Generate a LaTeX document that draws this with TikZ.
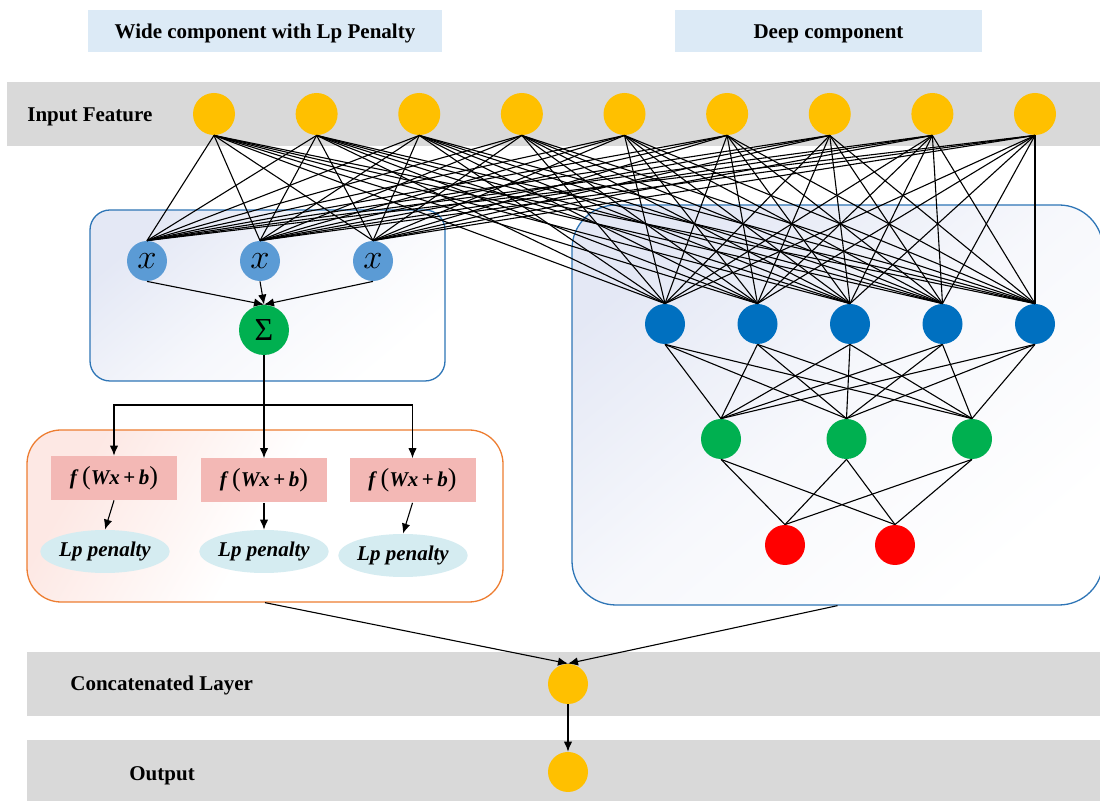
\documentclass[tikz,border=0pt]{standalone}
\usepackage{fontspec}
\setmainfont{Liberation Serif}
\usetikzlibrary{arrows.meta,positioning,calc,shapes.geometric}
\definecolor{inYellow}{HTML}{FFC000}
\definecolor{xBlue}{HTML}{5B9BD5}
\definecolor{sumGreen}{HTML}{00B050}
\definecolor{deepBlue}{HTML}{0070C0}
\definecolor{outRed}{HTML}{FF0000}
\definecolor{bandGray}{HTML}{D9D9D9}
\definecolor{headBlue}{HTML}{DCEAF6}
\definecolor{fPink}{HTML}{F3B8B5}
\definecolor{lpCyan}{HTML}{D5ECF1}
\definecolor{boxBlue}{HTML}{2E75B6}
\definecolor{boxOrange}{HTML}{ED7D31}
\definecolor{deepTint}{HTML}{E4E8F5}
\definecolor{penTint}{HTML}{FDE8E4}

\newcommand{\fwxb}{\textit{f}\,{\fontsize{13}{13}\selectfont\mdseries(}\textit{Wx}\,+\,\textit{b}{\fontsize{13}{13}\selectfont\mdseries)}}

\begin{document}
\begin{tikzpicture}[x=0.5pt,y=-0.5pt,
    every node/.style={font=\fontsize{10.5}{12}\selectfont\bfseries},
    band/.style={fill=bandGray},
    headbox/.style={rectangle,fill=headBlue,minimum width=177pt,
                    minimum height=21pt,inner sep=0pt,text height=9pt,text depth=1pt},
    bandlbl/.style={anchor=west,inner sep=0pt,text height=9pt,text depth=1pt},
    unit/.style={circle,minimum size=20pt,inner sep=0pt},
    inunit/.style={unit,fill=inYellow,minimum size=21pt},
    xunit/.style={unit,fill=xBlue,font=\fontsize{16}{16}\selectfont},
    sumunit/.style={unit,fill=sumGreen,minimum size=25pt,
                    font=\fontsize{16}{16}\selectfont},
    hunit/.style={unit,fill=deepBlue},
    gunit/.style={unit,fill=sumGreen},
    ounit/.style={unit,fill=outRed},
    fbox/.style={rectangle,fill=fPink,minimum width=63pt,minimum height=22pt,
                 inner sep=0pt},
    lpnode/.style={ellipse,fill=lpCyan,minimum width=63pt,minimum height=21.5pt,
                   inner sep=0pt,font=\fontsize{10.5}{12}\selectfont\bfseries\itshape},
    widebox/.style={rectangle,draw=boxBlue,line width=0.65pt,rounded corners=10pt,
                    top color=deepTint,bottom color=white,middle color=deepTint!35,
                    shading angle=40},
    penbox/.style={rectangle,draw=boxOrange,line width=0.65pt,rounded corners=17pt,
                   top color=penTint,bottom color=white,middle color=white,
                   shading angle=60},
    deepbox/.style={rectangle,draw=boxBlue,line width=0.65pt,rounded corners=22pt,
                    top color=deepTint,bottom color=white,middle color=deepTint!30,
                    shading angle=40},
    conn/.style={line width=0.55pt},
    arr/.style={conn,-{Latex[length=5pt,width=4.2pt]}}
  ]
  \useasboundingbox (0,0) rectangle (1100,801);
  % Bands
  \fill[band] (7,82) rectangle (1100,146);
  \fill[band] (27,652) rectangle (1100,716);
  \fill[band] (27,740) rectangle (1100,801);
  \node[bandlbl] (inlbl)  at (27,114)  {Input Feature};
  \node[bandlbl] (catlbl) at (70,683)  {Concatenated Layer};
  \node[bandlbl] (outlbl) at (129,773) {Output};
  % Headers
  \node[headbox] (widehead) at (265,31) {Wide component with Lp Penalty};
  \node[headbox,minimum width=153.5pt] (deephead) at (828.5,31) {Deep component};
  % Component boxes
  \node[widebox,minimum width=177.5pt,minimum height=85.5pt] (wide) at (267.5,295.5) {};
  \node[penbox,minimum width=238pt,minimum height=86pt] (pen) at (265,516) {};
  \node[deepbox,minimum width=265.5pt,minimum height=200pt] (deep) at (837.5,405) {};
  % Input layer
  \foreach \i in {1,...,9}
    \node[inunit] (in\i) at ({214+102.625*(\i-1)},114) {};
  % Wide part
  \node[xunit] (x1) at (147,261) {$x$};
  \node[xunit] (x2) at (260,261) {$x$};
  \node[xunit] (x3) at (373,261) {$x$};
  \node[sumunit] (sum) at (264,330) {Σ};
  \node[fbox] (f1) at (114,478)     {\fwxb};
  \node[fbox] (f2) at (264,480.5)   {\fwxb};
  \node[fbox] (f3) at (412.5,480.5) {\fwxb};
  \node[lpnode] (lp1) at (105,551.5) {Lp penalty};
  \node[lpnode] (lp2) at (264,551.5) {Lp penalty};
  \node[lpnode,minimum width=64pt] (lp3) at (403,555.5) {Lp penalty};
  % Deep part
  \foreach \i in {1,...,5}
    \node[hunit] (h\i) at ({665+92.5*(\i-1)},324) {};
  \foreach \i in {1,2,3}
    \node[gunit] (g\i) at ({721+125.5*(\i-1)},439) {};
  \node[ounit] (o1) at (785,545) {};
  \node[ounit] (o2) at (895,545) {};
  % Concatenation and output
  \node[inunit,minimum size=20pt] (cat) at (568,684) {};
  \node[inunit,minimum size=20pt] (out) at (568,772) {};
  % Input connections
  \foreach \i in {1,...,9} {
    \foreach \j in {1,2,3}
      \draw[conn] (in\i.south) -- (x\j.north);
    \foreach \j in {1,...,5}
      \draw[conn] (in\i.south) -- (h\j.north);
  }
  % Deep connections
  \foreach \i in {1,...,5}
    \foreach \j in {1,2,3}
      \draw[conn] (h\i.south) -- (g\j.north);
  \foreach \i in {1,2,3}
    \foreach \j in {1,2}
      \draw[conn] (g\i.south) -- (o\j.north);
  % Wide arrows
  \foreach \j in {1,2,3}
    \draw[arr] (x\j.south) -- (sum.north);
  \coordinate (split) at (264,405);
  \draw[arr] (sum.south) -- (f2.north);
  \draw[arr] (split) -| (f1.north);
  \draw[arr] (split) -| (f3.north);
  \foreach \j in {1,2,3}
    \draw[arr] (f\j.south) -- (lp\j.north);
  % Merge
  \draw[arr] (pen.south) -- (cat.north);
  \draw[arr] (deep.south) -- (cat.north);
  \draw[arr] (cat.south) -- (out.north);
\end{tikzpicture}
\end{document}
